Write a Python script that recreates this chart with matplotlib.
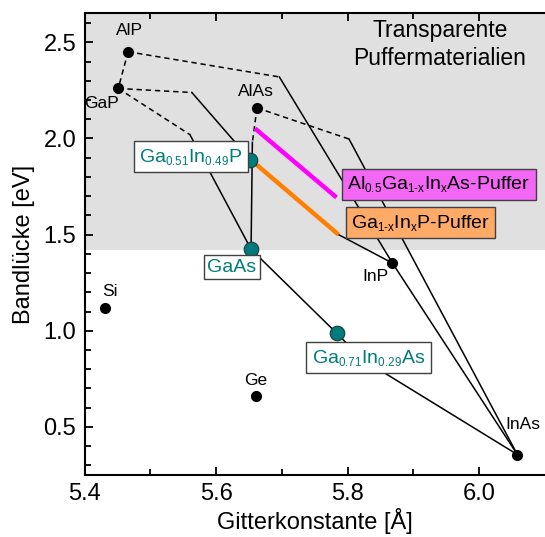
import matplotlib
matplotlib.use("Agg")
import matplotlib.pyplot as plt
import matplotlib._mathtext as mtext

plt.rcParams['font.family'] = ['Liberation Sans', 'DejaVu Sans']
plt.rcParams['mathtext.fontset'] = 'custom'
plt.rcParams['mathtext.rm'] = 'Liberation Sans'
plt.rcParams['mathtext.it'] = 'Liberation Sans'
# smaller subscripts, like the original
mtext.SHRINK_FACTOR = 0.6

# binary semiconductors: lattice constant [A], band gap [eV]
names = ['AlP', 'GaP', 'AlAs', 'InP', 'InAs', 'Si', 'Ge']
a_bin = [5.466, 5.451, 5.662, 5.868, 6.058, 5.431, 5.660]
eg_bin = [2.451, 2.260, 2.159, 1.352, 0.356, 1.118, 0.659]

# lattice matched / buffer points (teal)
a_teal = [5.652, 5.653, 5.783]
eg_teal = [1.889, 1.424, 0.988]

# ternary lines, indirect (dashed) parts
dashed = [
    ([5.466, 5.451], [2.451, 2.260]),          # AlP-GaP
    ([5.466, 5.696], [2.451, 2.320]),          # AlP-InP
    ([5.451, 5.563], [2.260, 2.239]),          # GaP-InP
    ([5.451, 5.560], [2.260, 2.020]),          # GaP-GaAs
    ([5.662, 5.655], [2.159, 1.980]),          # AlAs-GaAs
    ([5.662, 5.802], [2.159, 1.997]),          # AlAs-InAs
]
# direct (solid) parts
solid = [
    ([5.696, 5.868], [2.320, 1.352]),                          # AlP-InP
    ([5.563, 5.652, 5.786, 5.868], [2.239, 1.889, 1.500, 1.352]),  # GaP-InP
    ([5.560, 5.653], [2.020, 1.424]),                          # GaP-GaAs
    ([5.655, 5.653], [1.980, 1.424]),                          # AlAs-GaAs
    ([5.802, 6.058], [1.997, 0.356]),                          # AlAs-InAs
    ([5.868, 6.058], [1.352, 0.356]),                          # InP-InAs
    ([5.653, 5.783, 5.822, 6.058], [1.424, 0.988, 0.852, 0.356]),  # GaAs-InAs
]
magenta_a = [5.659, 5.783]
magenta_eg = [2.052, 1.693]
orange_a = [5.662, 5.786]
orange_eg = [1.862, 1.500]

fig = plt.figure(figsize=(5.45, 5.37), dpi=100)
ax = fig.add_axes([0.1554, 0.1155, 0.8446, 0.8594])
ax.set_xlim(5.4, 6.1)
ax.set_ylim(0.25, 2.65)

ax.axhspan(1.42, 2.65, color='#e0e0e0', zorder=0, lw=0)

for xs, ys in dashed:
    ax.plot(xs, ys, color='k', lw=1.1, ls=(0, (3.5, 2.5)), zorder=2)
for xs, ys in solid:
    ax.plot(xs, ys, color='k', lw=1.1, zorder=2)

ax.plot(magenta_a, magenta_eg, color='#ff00ff', lw=3.2, zorder=3, solid_capstyle='butt')
ax.plot(orange_a, orange_eg, color='#ff8000', lw=3.2, zorder=3, solid_capstyle='butt')

ax.plot(a_bin, eg_bin, 'o', color='k', ms=7, zorder=4)
ax.plot(a_teal, eg_teal, 'o', color='#007b7b', mec='#1a3a3a', mew=0.8, ms=10.5, zorder=5)

lab_x = [5.4686, 5.4258, 5.660, 5.8414, 6.0656, 5.4379, 5.6603]
lab_y = [2.559, 2.182, 2.246, 1.283, 0.512, 1.205, 0.741]
for n, x, y in zip(names, lab_x, lab_y):
    ax.text(x, y, n, fontsize=12.5, ha='center', va='center', zorder=6)

teal = '#007b7b'
wbox = dict(boxstyle='square,pad=0.28', fc='white', ec='#404040', lw=1)
ax.text(5.561, 1.905, r'Ga$_{\mathrm{0.51}}$In$_{\mathrm{0.49}}$P', color=teal,
        fontsize=14, ha='center', va='center', bbox=wbox, zorder=6)
ax.text(5.624, 1.331, 'GaAs', color=teal, fontsize=14, ha='center', va='center',
        bbox=dict(boxstyle='square,pad=0.2', fc='white', ec='#404040', lw=1), zorder=6)
ax.text(5.8315, 0.86, r'Ga$_{\mathrm{0.71}}$In$_{\mathrm{0.29}}$As', color=teal,
        fontsize=14, ha='center', va='center', bbox=wbox, zorder=6)

ax.text(5.9383, 1.762, r'Al$_{\mathrm{0.5}}$Ga$_{\mathrm{1\text{-}x}}$In$_{\mathrm{x}}$As-Puffer',
        fontsize=14, ha='center', va='center', zorder=6,
        bbox=dict(boxstyle='square,pad=0.28', fc='#f466f4', ec='#404040', lw=1))
ax.text(5.9106, 1.562, r'Ga$_{\mathrm{1\text{-}x}}$In$_{\mathrm{x}}$P-Puffer',
        fontsize=14, ha='center', va='center', zorder=6,
        bbox=dict(boxstyle='square,pad=0.28', fc='#ffaa66', ec='#404040', lw=1))

ax.text(5.94, 2.528, 'Transparente', fontsize=16.5, ha='center', va='baseline', zorder=6)
ax.text(5.94, 2.382, 'Puffermaterialien', fontsize=16.5, ha='center', va='baseline', zorder=6)

ax.set_xticks([5.4, 5.6, 5.8, 6.0])
ax.set_xticks([5.5, 5.7, 5.9], minor=True)
ax.set_yticks([0.5, 1.0, 1.5, 2.0, 2.5])
ax.set_yticks([0.3, 0.4, 0.6, 0.7, 0.8, 0.9, 1.1, 1.2, 1.3, 1.4, 1.6, 1.7, 1.8, 1.9,
               2.1, 2.2, 2.3, 2.4, 2.6], minor=True)
ax.set_xticklabels(['5.4', '5.6', '5.8', '6.0'])
ax.set_yticklabels(['0.5', '1.0', '1.5', '2.0', '2.5'])
ax.tick_params(which='both', direction='in', width=1.3, labelsize=17, pad=6, top=True)
ax.tick_params(which='major', length=6)
ax.tick_params(which='minor', length=4)
ax.spines['right'].set_visible(False)
for s in ['left', 'bottom', 'top']:
    ax.spines[s].set_linewidth(1.5)

ax.set_xlabel('Gitterkonstante [Å]', fontsize=17, labelpad=2)
ax.set_ylabel('Bandlücke [eV]', fontsize=17, labelpad=6)

fig.savefig('out.png', dpi=100)
